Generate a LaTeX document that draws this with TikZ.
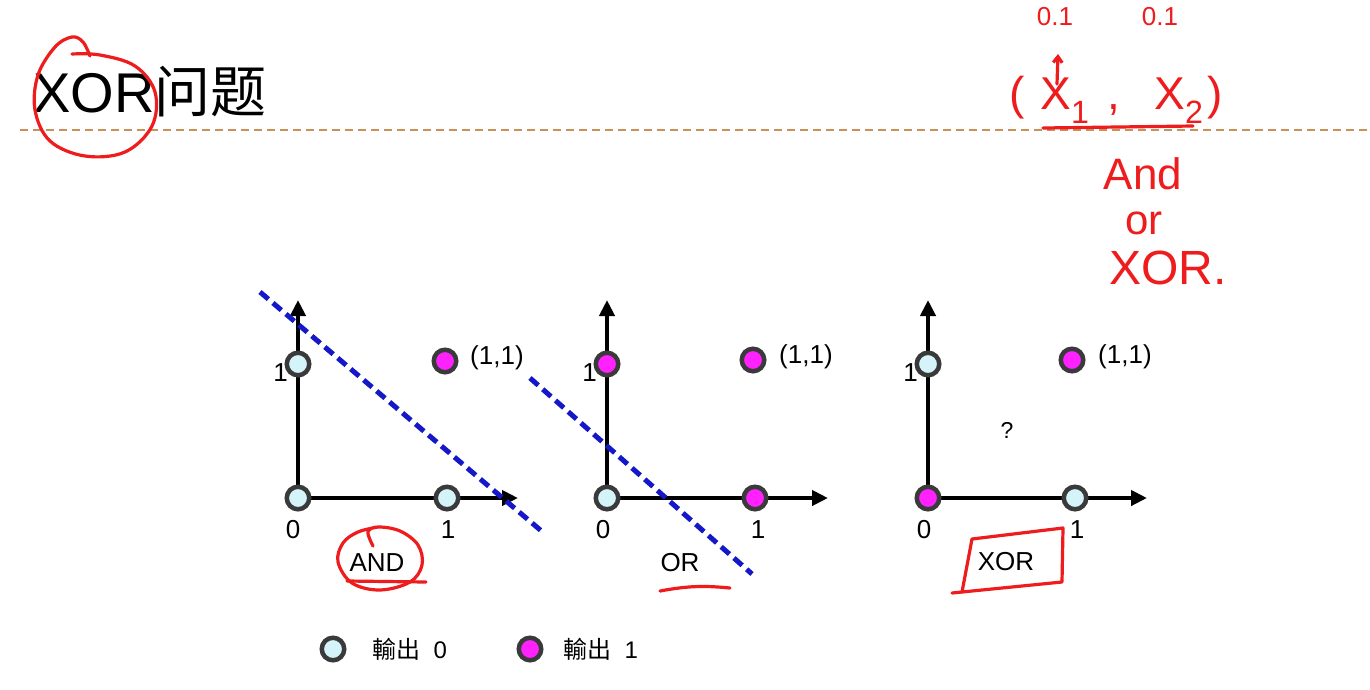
\documentclass[tikz,border=0pt]{standalone}
\usepackage{fontspec}
\setmainfont{Liberation Sans}
\newfontfamily\cjk{Noto Sans CJK SC}
\newfontfamily\cjktc{Noto Sans CJK TC}
\usetikzlibrary{arrows.meta}
\definecolor{cyanfill}{HTML}{D4F4FA}
\definecolor{magfill}{HTML}{FF22FF}
\definecolor{ringgray}{HTML}{3A3A3A}
\definecolor{dashblue}{HTML}{1418C8}
\definecolor{inkred}{HTML}{EE1C1C}
\definecolor{rulebrown}{HTML}{C8905A}
\begin{document}
\begin{tikzpicture}[x=1pt,y=-1pt,
  ptzero/.style={circle, draw=ringgray, line width=4.5pt, fill=cyanfill, minimum size=22.5pt, inner sep=0pt},
  ptone/.style={circle, draw=ringgray, line width=4.5pt, fill=magfill, minimum size=22.5pt, inner sep=0pt},
  axis/.style={line width=4.5pt, -{Triangle[length=16pt,width=15pt]}},
  sepline/.style={dashblue, line width=5pt, dash pattern=on 11pt off 6pt},
  lab/.style={font=\fontsize{26}{30}\selectfont, inner sep=0pt},
  legtext/.style={font=\fontsize{24}{28}\selectfont, inner sep=0pt, anchor=west},
  ink/.style={inkred, line width=3.2pt, line cap=round, line join=round},
  hand/.style={text=inkred, inner sep=0pt}]
\useasboundingbox (0,0) rectangle (1370,689);
\fill[white] (0,0) rectangle (1370,689);

% title and rule
\node[anchor=base west, inner sep=0pt, font=\fontsize{56}{60}\selectfont] (title) at (33,112) {XOR{\cjk 问题}};
\coordinate (ruleA) at (20,130);
\coordinate (ruleB) at (1370,130);
\draw[rulebrown, line width=1.6pt, dash pattern=on 8pt off 5pt] (ruleA) -- (ruleB);

% ---------- plot 1 : AND ----------
\coordinate (o1) at (298,498);
\coordinate (y1) at (298,300);
\coordinate (x1) at (518,498);
\draw[axis] (o1) -- (y1);
\draw[axis] (o1) -- (x1);
\node[lab, anchor=east] (l1y) at (288,373) {1};
\node[lab] (l1o) at (293,530) {0};
\node[lab] (l1x) at (448,530) {1};
\coordinate (d1s) at (260,292);
\coordinate (d1e) at (545,534);
\draw[sepline] (d1s) -- (d1e);
\node[ptzero] (p1a) at (298,498) {};
\node[ptzero] (p1b) at (298,364) {};
\node[ptzero] (p1c) at (447,498) {};
\node[ptone]  (p1d) at (445,361) {};
\node[lab, anchor=west] (l1d) at (470,358) {(1,1)};
\node[lab] (n1) at (377,563) {AND};

% ---------- plot 2 : OR ----------
\coordinate (o2) at (607,498);
\coordinate (y2) at (607,300);
\coordinate (x2) at (828,498);
\draw[axis] (o2) -- (y2);
\draw[axis] (o2) -- (x2);
\node[lab, anchor=east] (l2y) at (597,373) {1};
\node[lab] (l2o) at (603,530) {0};
\node[lab] (l2x) at (758,530) {1};
\coordinate (d2s) at (530,378);
\coordinate (d2e) at (752,574);
\draw[sepline] (d2s) -- (d2e);
\node[ptzero] (p2a) at (607,498) {};
\node[ptone]  (p2b) at (607,364) {};
\node[ptone]  (p2c) at (755,498) {};
\node[ptone]  (p2d) at (753,360) {};
\node[lab, anchor=west] (l2d) at (779,357) {(1,1)};
\node[lab] (n2) at (680,563) {OR};

% ---------- plot 3 : XOR ----------
\coordinate (o3) at (928,498);
\coordinate (y3) at (928,300);
\coordinate (x3) at (1147,498);
\draw[axis] (o3) -- (y3);
\draw[axis] (o3) -- (x3);
\node[lab, anchor=east] (l3y) at (918,373) {1};
\node[lab] (l3o) at (924,530) {0};
\node[lab] (l3x) at (1077,530) {1};
\node[ptone]  (p3a) at (928,498) {};
\node[ptzero] (p3b) at (928,364) {};
\node[ptzero] (p3c) at (1075,498) {};
\node[ptone]  (p3d) at (1072,360) {};
\node[lab, anchor=west] (l3d) at (1098,357) {(1,1)};
\node[inner sep=0pt, font=\fontsize{23}{26}\selectfont] (q3) at (1007,430) {?};
\node[lab] (n3) at (1006,562) {XOR};

% ---------- legend ----------
\node[ptzero] (lg0) at (333,649) {};
\node[legtext] (lg0t) at (372,649) {{\cjktc 輸出}\ \ 0};
\node[ptone] (lg1) at (530,649) {};
\node[legtext] (lg1t) at (563,649) {{\cjktc 輸出}\ \ 1};

% ---------- red handwriting ----------
\draw[ink] plot[smooth, tension=0.6] coordinates {(72,54) (100,55) (135,66) (155,92) (152,126) (125,152) (85,156) (50,141) (35,110) (38,75) (55,47) (72,37) (83,42) (90,56)};
\draw[ink] plot[smooth, tension=0.6] coordinates {(373,546) (368,532) (378,527) (400,531) (418,545) (422,565) (410,582) (380,590) (352,583) (338,562) (343,543) (358,532) (378,527)};
\coordinate (andA) at (347,581);
\coordinate (andB) at (426,582);
\draw[ink] (andA) -- (andB);
\coordinate (orA) at (660,591);
\coordinate (orB) at (730,588);
\draw[ink] (orA) to[bend left=8] (orB);
\coordinate (bx1) at (972,539);
\coordinate (bx2) at (1063,528);
\coordinate (bx3) at (1062,582);
\coordinate (bx4) at (952,593);
\coordinate (bx5) at (962,592);
\draw[ink] (bx1) -- (bx2) -- (bx3) -- (bx4);
\draw[ink] (bx1) -- (bx5);

\node[hand, font=\fontsize{26}{28}\selectfont] (h01a) at (1055,17) {0.1};
\node[hand, font=\fontsize{26}{28}\selectfont] (h01b) at (1160,17) {0.1};
\coordinate (arrbase) at (1057,84);
\coordinate (arrtip) at (1058,54);
\draw[ink, -{Straight Barb[length=6pt,width=9pt]}] (arrbase) -- (arrtip);
\node[hand, font=\fontsize{46}{50}\selectfont] (hx) at (1116,100) {(\hspace{16pt}X\textsubscript{1}\hspace{18pt},\hspace{34pt}X\textsubscript{2}\hspace{4pt})};
\coordinate (ulA) at (1043,128);
\coordinate (ulB) at (1193,126);
\draw[ink] (ulA) -- (ulB);
\node[hand, font=\fontsize{44}{46}\selectfont] (hand) at (1143,174) {And};
\node[hand, font=\fontsize{42}{46}\selectfont] (hor) at (1144,223) {or};
\node[hand, font=\fontsize{48}{52}\selectfont] (hxor) at (1168,268) {XOR.};
\end{tikzpicture}
\end{document}
